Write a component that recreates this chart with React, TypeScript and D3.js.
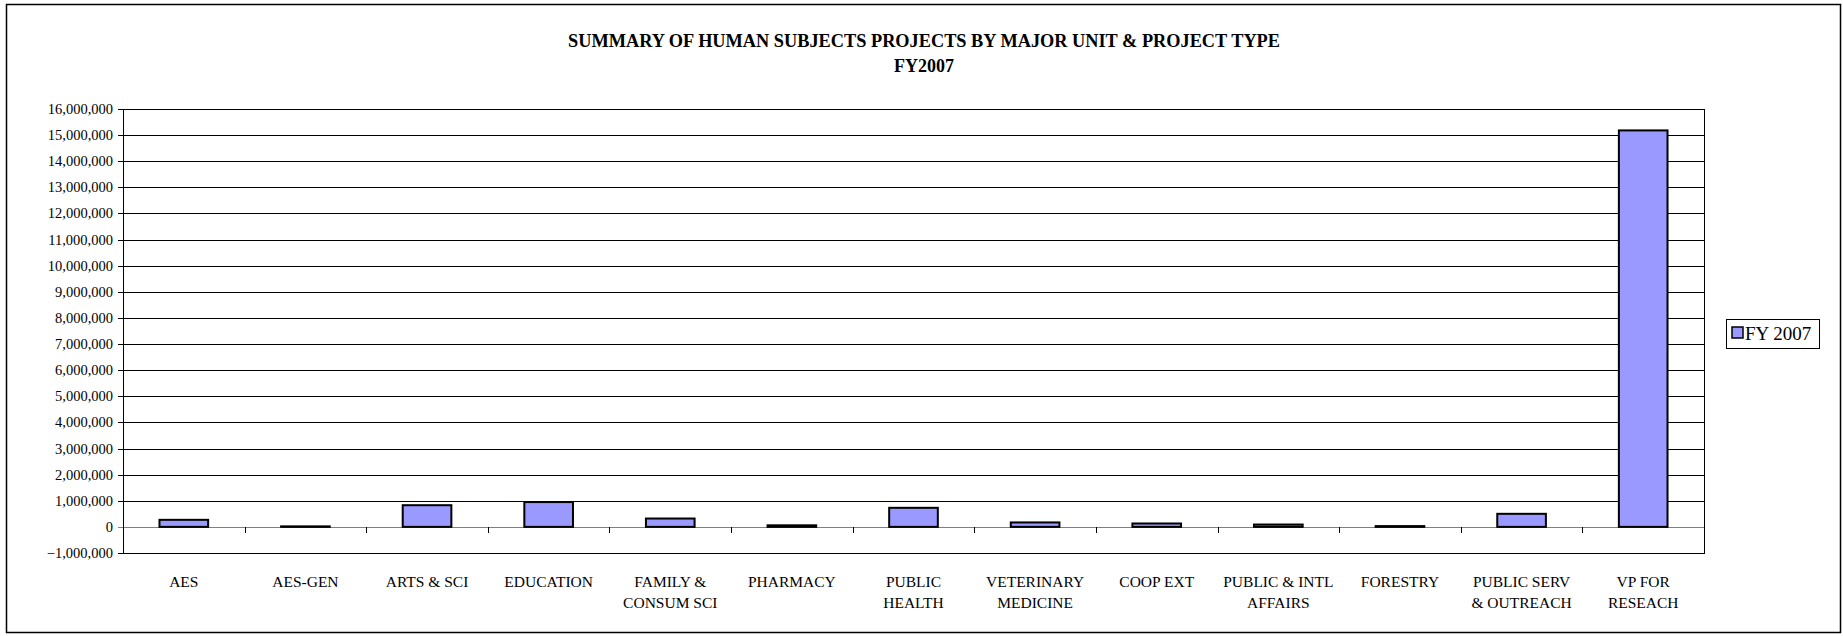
import * as d3 from "d3";

// chart data
const units = [
  ["AES"],
  ["AES-GEN"],
  ["ARTS & SCI"],
  ["EDUCATION"],
  ["FAMILY &", "CONSUM SCI"],
  ["PHARMACY"],
  ["PUBLIC", "HEALTH"],
  ["VETERINARY", "MEDICINE"],
  ["COOP EXT"],
  ["PUBLIC & INTL", "AFFAIRS"],
  ["FORESTRY"],
  ["PUBLIC SERV", "& OUTREACH"],
  ["VP FOR", "RESEACH"],
];
const fy2007 = [
  270000, 20000, 830000, 950000, 320000, 60000, 730000, 170000, 130000, 90000,
  30000, 500000, 15180000,
];
const yTicks = d3.range(-1000000, 16000001, 1000000);
const seriesName = "FY 2007";
const titleLines = [
  "SUMMARY OF HUMAN SUBJECTS PROJECTS BY MAJOR UNIT & PROJECT TYPE",
  "FY2007",
];

const W = 1843;
const H = 636;
const plot = { left: 123, right: 1704, top: 109, bottom: 553 };
const font = "'Liberation Serif', 'Times New Roman', serif";
const barFill = "#9999FF";

export default function App() {
  const x = d3
    .scaleBand<number>()
    .domain(d3.range(units.length))
    .range([plot.left, plot.right])
    .padding(0);
  const y = d3
    .scaleLinear()
    .domain([-1000000, 16000000])
    .range([plot.bottom, plot.top]);
  // Excel style gap width of 150%
  const barW = x.bandwidth() / 2.5;
  const fmt = d3.format(",");

  return (
    <svg
      width={W}
      height={H}
      style={{ position: "absolute", left: 0, top: 0, background: "#fff" }}
      fontFamily={font}
    >
      {/* outer frame */}
      <rect x={6.5} y={4.5} width={1834} height={628} fill="#fff" stroke="#000" strokeWidth={1.5} />

      {titleLines.map((t, i) => (
        <text
          key={i}
          x={924}
          y={47 + i * 25}
          textAnchor="middle"
          fontWeight="bold"
          fontSize={18}
          textLength={i === 0 ? 712 : undefined}
          lengthAdjust="spacingAndGlyphs"
        >
          {t}
        </text>
      ))}

      {/* gridlines and y ticks */}
      {yTicks.map((v) => (
        <g key={v}>
          <line
            x1={plot.left - 5}
            x2={plot.right}
            y1={Math.round(y(v)) + 0.5}
            y2={Math.round(y(v)) + 0.5}
            stroke={v === 0 ? "#808080" : "#000"}
            strokeWidth={1}
          />
          <text
            x={plot.left - 10}
            y={Math.round(y(v)) + 5}
            textAnchor="end"
            fontSize={14.5}
          >
            {fmt(v)}
          </text>
        </g>
      ))}

      {/* category ticks on the zero line */}
      {d3.range(1, units.length).map((i) => (
        <line
          key={i}
          x1={Math.round(x(i)!) + 0.5}
          x2={Math.round(x(i)!) + 0.5}
          y1={Math.round(y(0))}
          y2={Math.round(y(0)) + 6}
          stroke="#000"
        />
      ))}

      {/* plot border */}
      <rect
        x={plot.left + 0.5}
        y={plot.top + 0.5}
        width={plot.right - plot.left}
        height={plot.bottom - plot.top}
        fill="none"
        stroke="#000"
      />

      {/* bars */}
      {fy2007.map((v, i) => {
        const cx = x(i)! + x.bandwidth() / 2;
        return (
          <rect
            key={i}
            x={cx - barW / 2}
            y={y(v)}
            width={barW}
            height={Math.max(0.5, y(0) - y(v))}
            fill={barFill}
            stroke="#000"
            strokeWidth={2}
          />
        );
      })}

      {/* category labels */}
      {units.map((lines, i) => (
        <text
          key={i}
          x={x(i)! + x.bandwidth() / 2}
          textAnchor="middle"
          fontSize={15.5}
        >
          {lines.map((l, j) => (
            <tspan key={j} x={x(i)! + x.bandwidth() / 2} y={587 + j * 21}>
              {l}
            </tspan>
          ))}
        </text>
      ))}

      {/* legend */}
      <rect x={1726.5} y={319.5} width={93} height={29} fill="#fff" stroke="#000" />
      <rect x={1732} y={327} width={11} height={11} fill={barFill} stroke="#000" strokeWidth={1.5} />
      <text x={1745} y={340} fontSize={19}>
        {seriesName}
      </text>
    </svg>
  );
}
